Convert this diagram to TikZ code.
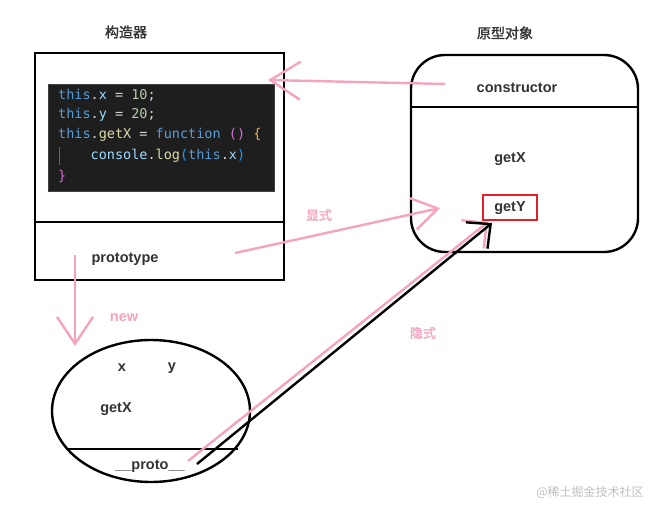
\documentclass[tikz,border=0pt]{standalone}
\usepackage{fontspec}
\usetikzlibrary{arrows.meta,shapes.geometric}
\setmainfont{Liberation Sans}
\setmonofont{DejaVu Sans Mono}
\newfontfamily\cjk{Noto Sans CJK SC}
\newfontfamily\cjkb{Noto Sans CJK SC}[FakeBold=1.6]
\definecolor{pinkl}{HTML}{F5A3BF}
\definecolor{redb}{HTML}{E0202A}
\definecolor{codebg}{HTML}{1E1E1E}
\definecolor{ckw}{HTML}{569CD6}
\definecolor{cvar}{HTML}{9CDCFE}
\definecolor{cop}{HTML}{D4D4D4}
\definecolor{cnum}{HTML}{B5CEA8}
\definecolor{cfn}{HTML}{DCDCAA}
\definecolor{cbr}{HTML}{DA70D6}
\definecolor{cgold}{HTML}{E6B04A}
\definecolor{cblue}{HTML}{179FFF}
\definecolor{txt}{HTML}{333333}
\tikzset{
  box/.style={draw=black, line width=2.4pt},
  lbl/.style={text=txt, font=\bfseries\fontsize{14.5}{16}\selectfont, inner sep=0pt},
  title/.style={text=txt, font=\cjkb\fontsize{14}{16}\selectfont, inner sep=0pt},
  plbl/.style={text=pinkl, font=\cjkb\fontsize{13}{15}\selectfont, inner sep=0pt},
  code/.style={anchor=west, inner sep=0pt, font=\ttfamily\fontsize{13.5}{16}\selectfont},
  pinkarrow/.style={draw=pinkl, line width=2.4pt},
}
\begin{document}
\begin{tikzpicture}[x=1pt,y=-1pt]
\useasboundingbox[fill=white] (0,0) rectangle (656,506);

% constructor
\node[title] (t1) at (126,32) {构造器};
\node[box, minimum width=249pt, minimum height=227pt, inner sep=0pt] (ctor) at (159.5,166.5) {};
\draw[line width=2.4pt] (ctor.west |- 0,222) -- (ctor.east |- 0,222);
\node[fill=codebg, draw=black!75, line width=0.6pt, minimum width=226pt, minimum height=107pt, inner sep=0pt] (code) at (161,137.5) {};
\node[code] (c1) at (58,95) {\textcolor{ckw}{this}\textcolor{cop}{.}\textcolor{cvar}{x} \textcolor{cop}{=} \textcolor{cnum}{10}\textcolor{cop}{;}};
\node[code] (c2) at (58,115) {\textcolor{ckw}{this}\textcolor{cop}{.}\textcolor{cvar}{y} \textcolor{cop}{=} \textcolor{cnum}{20}\textcolor{cop}{;}};
\node[code] (c3) at (58,135) {\textcolor{ckw}{this}\textcolor{cop}{.}\textcolor{cfn}{getX} \textcolor{cop}{=} \textcolor{ckw}{function} \textcolor{cbr}{()} \textcolor{cgold}{\{}};
\node[code] (c4) at (58,156) {\phantom{0000}\textcolor{cvar}{console}\textcolor{cop}{.}\textcolor{cfn}{log}\textcolor{cblue}{(}\textcolor{ckw}{this}\textcolor{cop}{.}\textcolor{cvar}{x}\textcolor{cblue}{)}};
\node[code] (c5) at (58,176) {\textcolor{cbr}{\}}};
\draw[black!60, line width=0.5pt] (59,147) -- (59,165);
\node[lbl] (ptype) at (125,259) {prototype};

% prototype object
\node[title] (t2) at (505,33) {原型对象};
\node[box, rounded corners=34pt, minimum width=227pt, minimum height=197pt, inner sep=0pt] (pobj) at (524.5,153.5) {};
\draw[line width=2.4pt] (pobj.west |- 0,107) -- (pobj.east |- 0,107);
\node[lbl] (pcons) at (517,88) {constructor};
\node[lbl] (pgetx) at (510,159) {getX};
\node[draw=redb, line width=2.4pt, minimum width=54pt, minimum height=25pt, inner sep=0pt] (getY) at (510,207.5) {};
\node[lbl] (getYt) at (510,208) {getY};

% instance
\node[box, ellipse, minimum width=198pt, minimum height=142pt, inner sep=0pt] (inst) at (151,411) {};
\draw[line width=2.4pt] (67,449) -- (238,449);
\node[lbl] (ix) at (122,368) {x};
\node[lbl] (iy) at (172,368) {y};
\node[lbl] (igetx) at (116,409) {getX};
\node[lbl] (iproto) at (150,466) {\_\_proto\_\_};

% labels
\node[text=pinkl, font=\bfseries\fontsize{14.5}{16}\selectfont, inner sep=0pt] (lnew) at (124,318) {new};
\node[plbl] (lexp) at (319,215) {显式};
\node[plbl] (limp) at (423,333) {隐式};

% connectors
\coordinate (a1s) at (445,84);
\coordinate (a1e) at (268,80);
\draw[pinkarrow, -{Straight Barb[length=30pt,width=38pt]}] (a1s) -- (a1e);
\coordinate (a2s) at (75,255);
\coordinate (a2e) at (75,346);
\draw[pinkarrow, -{Straight Barb[length=27pt,width=36pt]}] (a2s) -- (a2e);
\coordinate (a3s) at (235,253);
\coordinate (a3e) at (440,208);
\draw[pinkarrow, -{Straight Barb[length=25pt,width=32pt]}] (a3s) -- (a3e);
\coordinate (a4s) at (188,461);
\coordinate (a4e) at (488,222);
\draw[pinkarrow, -{Straight Barb[length=18pt,width=36pt]}] (a4s) -- (a4e);
\coordinate (a5s) at (197,464);
\coordinate (a5e) at (492,223);
\draw[line width=2.4pt, -{Straight Barb[length=18pt,width=34pt]}] (a5s) -- (a5e);

% watermark
\node[text=black!25, font=\cjk\fontsize{12}{14}\selectfont, inner sep=0pt] (wm) at (590,492) {@稀土掘金技术社区};
\end{tikzpicture}
\end{document}
